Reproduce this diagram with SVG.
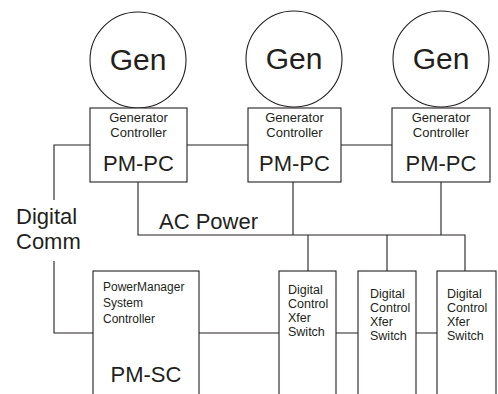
<svg xmlns="http://www.w3.org/2000/svg" width="498" height="394" viewBox="0 0 498 394">
<style>
.sh{fill:#fff;stroke:#231f20;stroke-width:1.1}
.ln{fill:none;stroke:#231f20;stroke-width:1.1}
text{font-family:"Liberation Sans",Arial,sans-serif;fill:#231f20}
.gen{font-size:30px;text-anchor:middle}
.sm{font-size:13px;text-anchor:middle}
.big{font-size:22px;text-anchor:middle}
.lab{font-size:22px}
.sw{font-size:12.5px}
.pm{font-size:12px}
</style>
<rect width="498" height="394" fill="#fff"/>
<g id="connectors">
<path class="ln" d="M90,145H54V200M54,261V333H93"/>
<path class="ln" d="M187,145H248M341,145H392"/>
<path class="ln" d="M138,182V235H465V271M293,182V235M441,182V235M308,235V271M387,235V271"/>
<path class="ln" d="M199,333H279M336,333H358M416,333H437"/>
</g>
<g id="gen1"><circle class="sh" cx="138" cy="60" r="48"/><text class="gen" x="138" y="70">Gen</text></g>
<g id="gen2"><circle class="sh" cx="294" cy="59" r="48"/><text class="gen" x="294" y="69">Gen</text></g>
<g id="gen3"><circle class="sh" cx="441" cy="59" r="48"/><text class="gen" x="441" y="69">Gen</text></g>
<g id="pmpc1"><rect class="sh" x="90" y="108" width="97" height="74"/><text class="sm" x="138.5" y="122">Generator</text><text class="sm" x="138.5" y="137">Controller</text><text class="big" x="138.5" y="171">PM-PC</text></g>
<g id="pmpc2"><rect class="sh" x="248" y="108" width="93" height="74"/><text class="sm" x="294.5" y="122">Generator</text><text class="sm" x="294.5" y="137">Controller</text><text class="big" x="294.5" y="171">PM-PC</text></g>
<g id="pmpc3"><rect class="sh" x="392" y="108" width="98" height="74"/><text class="sm" x="441" y="122">Generator</text><text class="sm" x="441" y="137">Controller</text><text class="big" x="441" y="171">PM-PC</text></g>
<g id="digital-comm"><text class="lab" x="16" y="224">Digital</text><text class="lab" x="16" y="249">Comm</text></g>
<g id="ac-power"><text class="lab" x="159" y="229">AC Power</text></g>
<g id="pmsc"><rect class="sh" x="93" y="271" width="106" height="130"/><text class="pm" x="103" y="291">PowerManager</text><text class="pm" x="103" y="307">System</text><text class="pm" x="103" y="323">Controller</text><text class="big" x="146" y="382">PM-SC</text></g>
<g id="switch1"><rect class="sh" x="279" y="271" width="57" height="130"/><text class="sw" x="288" y="294">Digital</text><text class="sw" x="288" y="308">Control</text><text class="sw" x="288" y="322">Xfer</text><text class="sw" x="288" y="336">Switch</text></g>
<g id="switch2"><rect class="sh" x="358" y="271" width="58" height="130"/><text class="sw" x="370" y="298">Digital</text><text class="sw" x="370" y="312">Control</text><text class="sw" x="370" y="326">Xfer</text><text class="sw" x="370" y="340">Switch</text></g>
<g id="switch3"><rect class="sh" x="437" y="271" width="59" height="130"/><text class="sw" x="447" y="298">Digital</text><text class="sw" x="447" y="312">Control</text><text class="sw" x="447" y="326">Xfer</text><text class="sw" x="447" y="340">Switch</text></g>
</svg>
